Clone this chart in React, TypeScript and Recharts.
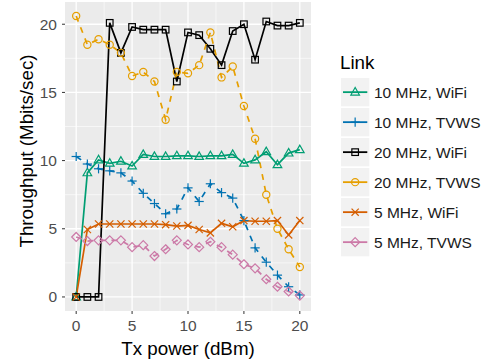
import React from 'react';
import { LineChart, Line, XAxis, YAxis, CartesianGrid } from 'recharts';

// ---------- data ----------
const txPower = [0, 1, 2, 3, 4, 5, 6, 7, 8, 9, 10, 11, 12, 13, 14, 15, 16, 17, 18, 19, 20];

const wifi10 = [0, 9.1, 10.05, 9.8, 9.95, 9.6, 10.45, 10.3, 10.3, 10.35, 10.35, 10.3, 10.35, 10.35, 10.45, 9.8, 10.05, 10.65, 9.7, 10.55, 10.8];
const tvws10 = [10.3, 9.75, 9.4, 9.25, 9.1, 8.5, 7.6, 6.85, 6.1, 6.45, 8.0, 7.0, 8.3, 7.65, 7.25, 5.6, 3.6, 2.55, 1.6, 0.75, 0.15];
const wifi20 = [0, 0, 0, 20.1, 17.9, 19.8, 19.6, 19.6, 19.6, 15.8, 19.4, 19.2, 18.2, 17.0, 19.5, 20.0, 17.4, 20.2, 19.9, 19.9, 20.1];
const tvws20 = [20.6, 18.5, 18.9, 18.5, 17.9, 16.2, 16.5, 15.8, 13.0, 16.5, 16.4, 17.0, 19.4, 16.1, 16.9, 14.0, 11.6, 7.5, 5.0, 3.5, 2.2];
const wifi5 = [0, 4.95, 5.35, 5.35, 5.35, 5.35, 5.35, 5.35, 5.3, 5.2, 5.25, 4.95, 4.7, 5.4, 5.15, 5.6, 5.55, 5.55, 5.6, 4.55, 5.6];
const tvws5 = [4.4, 4.1, 4.15, 4.15, 4.15, 3.65, 3.8, 3.0, 3.5, 4.15, 3.85, 3.65, 4.05, 3.65, 3.1, 2.4, 2.1, 1.3, 0.75, 0.4, 0.1];

const seriesNames = ['10 MHz, WiFi', '10 MHz, TVWS', '20 MHz, WiFi', '20 MHz, TVWS', '5 MHz, WiFi', '5 MHz, TVWS'];
const xTicks = [0, 5, 10, 15, 20];
const yTicks = [0, 5, 10, 15, 20];
const xMinor = [2.5, 7.5, 12.5, 17.5];
const yMinor = [2.5, 7.5, 12.5, 17.5];

const xTitle = 'Tx power (dBm)';
const yTitle = 'Throughput (Mbits/sec)';
const legendTitle = 'Link';

// ---------- styling ----------
type Shape = 'triangle' | 'plus' | 'square' | 'circle' | 'cross' | 'diamond';

const SERIES: { key: string; name: string; values: number[]; color: string; dashed: boolean; shape: Shape }[] = [
  { key: 'wifi10', name: seriesNames[0], values: wifi10, color: '#009E73', dashed: false, shape: 'triangle' },
  { key: 'tvws10', name: seriesNames[1], values: tvws10, color: '#0072B2', dashed: true, shape: 'plus' },
  { key: 'wifi20', name: seriesNames[2], values: wifi20, color: '#000000', dashed: false, shape: 'square' },
  { key: 'tvws20', name: seriesNames[3], values: tvws20, color: '#E69F00', dashed: true, shape: 'circle' },
  { key: 'wifi5', name: seriesNames[4], values: wifi5, color: '#D55E00', dashed: false, shape: 'cross' },
  { key: 'tvws5', name: seriesNames[5], values: tvws5, color: '#CC79A7', dashed: true, shape: 'diamond' },
];

const data = txPower.map((x, i) => {
  const row: Record<string, number> = { x };
  SERIES.forEach((s) => {
    row[s.key] = s.values[i];
  });
  return row;
});

const FONT = '"Liberation Sans", Arial, Helvetica, sans-serif';
const W = 489;
const H = 361;

function Marker({ shape, cx, cy, color }: { shape: Shape; cx: number; cy: number; color: string }) {
  const sw = 1.2;
  const common = { stroke: color, strokeWidth: sw, fill: 'none' };
  switch (shape) {
    case 'triangle':
      return <polygon {...common} points={`${cx},${cy - 4.6} ${cx - 4.3},${cy + 2.9} ${cx + 4.3},${cy + 2.9}`} />;
    case 'plus':
      return (
        <g {...common}>
          <line x1={cx - 4.6} y1={cy} x2={cx + 4.6} y2={cy} />
          <line x1={cx} y1={cy - 4.6} x2={cx} y2={cy + 4.6} />
        </g>
      );
    case 'square':
      return <rect {...common} x={cx - 3.3} y={cy - 3.3} width={6.6} height={6.6} />;
    case 'circle':
      return <circle {...common} cx={cx} cy={cy} r={3.6} />;
    case 'cross':
      return (
        <g {...common}>
          <line x1={cx - 3.6} y1={cy - 3.6} x2={cx + 3.6} y2={cy + 3.6} />
          <line x1={cx - 3.6} y1={cy + 3.6} x2={cx + 3.6} y2={cy - 3.6} />
        </g>
      );
    case 'diamond':
    default:
      return <polygon {...common} points={`${cx},${cy - 4.5} ${cx + 4.5},${cy} ${cx},${cy + 4.5} ${cx - 4.5},${cy}`} />;
  }
}

function makeDot(shape: Shape, color: string) {
  return (props: any) => {
    const { cx, cy, index } = props;
    if (cx == null || cy == null) return <g key={`e-${index}`} />;
    return (
      <g key={`d-${index}`}>
        <Marker shape={shape} cx={cx} cy={cy} color={color} />
      </g>
    );
  };
}

function LegendOverlay() {
  const keyX = 341;
  const keyW = 28.3;
  const keyH = 28.3;
  const firstTop = 78;
  const step = 30;
  return (
    <svg width={W} height={H} style={{ position: 'absolute', left: 0, top: 0, pointerEvents: 'none' }}>
      <text x={188} y={355} textAnchor="middle" fontFamily={FONT} fontSize={18.8} fill="#000">
        {xTitle}
      </text>
      <text transform="translate(32.5,151) rotate(-90)" textAnchor="middle" fontFamily={FONT} fontSize={18.8} fill="#000">
        {yTitle}
      </text>
      <text x={340} y={69} fontFamily={FONT} fontSize={18.8} fill="#000">
        {legendTitle}
      </text>
      {SERIES.map((s, i) => {
        const top = firstTop + i * step;
        const cy = top + keyH / 2;
        const cx = keyX + keyW / 2;
        return (
          <g key={s.key}>
            <rect x={keyX} y={top} width={keyW} height={keyH} fill="#F2F2F2" />
            <line x1={keyX + 2} y1={cy} x2={keyX + keyW - 2} y2={cy} stroke={s.color} strokeWidth={1.8} />
            <Marker shape={s.shape} cx={cx} cy={cy} color={s.color} />
            <text x={374} y={cy + 5.5} fontFamily={FONT} fontSize={15.5} fill="#1a1a1a">
              {s.name}
            </text>
          </g>
        );
      })}
    </svg>
  );
}

export default function App() {
  return (
    <div style={{ position: 'absolute', left: 0, top: 0, width: W, height: H, background: '#fff', fontFamily: FONT }}>
      <LineChart width={W} height={H} data={data} margin={{ top: 2, right: 178, bottom: 0, left: 0 }}>
        <CartesianGrid
          fill="#EBEBEB"
          stroke="#FFFFFF"
          strokeWidth={0.6}
          horizontalValues={yMinor}
          verticalValues={xMinor}
        />
        <CartesianGrid
          fill="none"
          stroke="#FFFFFF"
          strokeWidth={1.3}
          horizontalValues={yTicks}
          verticalValues={xTicks}
        />
        <XAxis
          dataKey="x"
          type="number"
          domain={[-1, 21]}
          ticks={xTicks}
          interval={0}
          allowDataOverflow
          height={50}
          axisLine={false}
          tickSize={3}
          tickMargin={6}
          tickLine={{ stroke: '#333333', strokeWidth: 1 }}
          tick={{ fill: '#4D4D4D', fontSize: 15.5, fontFamily: FONT }}
        />
        <YAxis
          type="number"
          domain={[-1.03, 21.63]}
          ticks={yTicks}
          interval={0}
          allowDataOverflow
          width={65}
          axisLine={false}
          tickSize={3}
          tickMargin={5}
          tickLine={{ stroke: '#333333', strokeWidth: 1 }}
          tick={{ fill: '#4D4D4D', fontSize: 15.5, fontFamily: FONT }}
        />
        {SERIES.map((s) => (
          <Line
            key={`line-${s.key}`}
            dataKey={s.key}
            stroke={s.color}
            strokeWidth={1.7}
            strokeDasharray={s.dashed ? '6 6' : undefined}
            dot={false}
            activeDot={false}
            isAnimationActive={false}
            type="linear"
          />
        ))}
        {SERIES.map((s) => (
          <Line
            key={`pts-${s.key}`}
            dataKey={s.key}
            stroke="none"
            dot={makeDot(s.shape, s.color)}
            activeDot={false}
            isAnimationActive={false}
            type="linear"
          />
        ))}
      </LineChart>
      <LegendOverlay />
    </div>
  );
}
